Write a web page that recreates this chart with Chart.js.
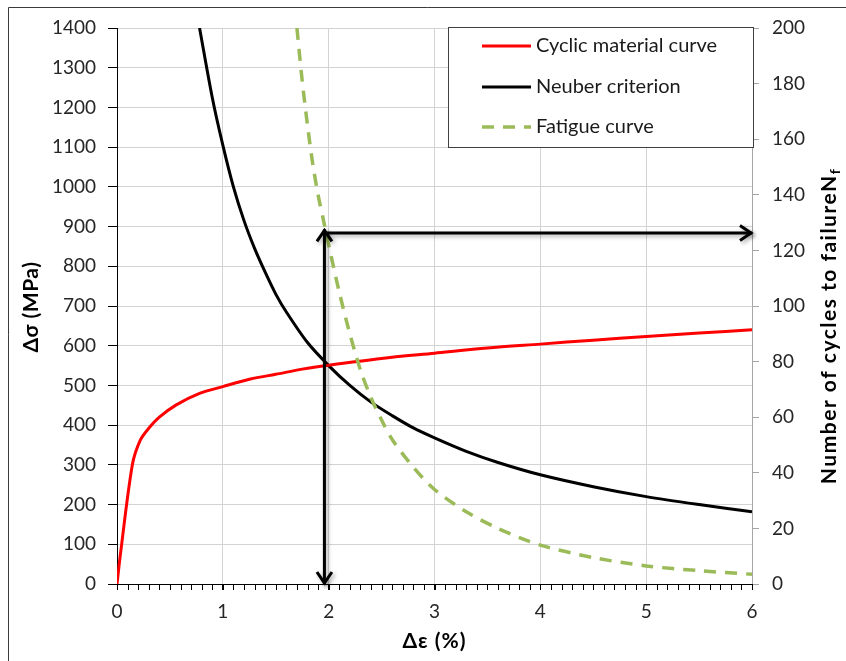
<!DOCTYPE html>
<html><head><meta charset="utf-8">
<script src="https://cdn.jsdelivr.net/npm/chart.js@4/dist/chart.umd.min.js"></script>
<style>html,body{margin:0;padding:0;background:#fff}#wrap{width:846px;height:661px;position:relative}</style>
</head><body><div id="wrap"><canvas id="c" width="846" height="661"></canvas></div>
<script>
// ---- data ----
const seriesNames = ['Cyclic material curve', 'Neuber criterion', 'Fatigue curve'];
const strainCyclic = [0, 0.03, 0.145, 0.22, 0.3, 0.4, 0.56, 0.78, 1.0, 1.26, 1.5, 1.75, 2.0, 2.5, 3.0, 3.5, 4.0, 4.5, 5.0, 5.5, 6.0];
const stressCyclic = [0, 70, 300, 362, 392, 420, 451, 480, 497, 516, 528, 541, 551, 568, 581, 594, 604, 614, 623, 632, 640];
const strainNeuber = [0.78, 0.9, 1.0, 1.1, 1.2, 1.3, 1.4, 1.5, 1.6, 1.8, 2.0, 2.2, 2.4, 2.6, 2.8, 3.0, 3.3, 3.6, 4.0, 4.5, 5.0, 5.5, 6.0];
const stressNeuber = [1400, 1225, 1105, 1000, 915, 845, 785, 730, 685, 608, 550, 500, 458, 424, 393, 368, 334, 306, 275, 245, 220, 200, 182];
const strainFatigue = [1.7, 1.75, 1.8, 1.85, 1.9, 1.95, 2.0, 2.1, 2.2, 2.3, 2.4, 2.5, 2.6, 2.8, 3.0, 3.3, 3.6, 4.0, 4.5, 5.0, 5.5, 6.0];
const cyclesFatigue = [200, 181, 165, 151, 140, 131, 122, 105, 90, 77, 67, 59, 52, 42, 34, 26, 20, 14, 9.5, 6.5, 4.8, 3.5];
const arrowUpX = [1.96, 1.96];
const arrowUpY = [0, 893];
const arrowRightX = [1.96, 6.0];
const arrowRightY = [884, 884];
const xTicks = [0, 1, 2, 3, 4, 5, 6];
const yTicks = [0, 100, 200, 300, 400, 500, 600, 700, 800, 900, 1000, 1100, 1200, 1300, 1400];
const y2Ticks = [0, 20, 40, 60, 80, 100, 120, 140, 160, 180, 200];
const xTitle = 'Δε (%)';
const yTitle = 'Δσ (MPa)';
const y2Title = 'Number of cycles to failureN';
const y2TitleSub = 'f';

const pts = (xs, ys) => xs.map((x, i) => ({x, y: ys[i]}));
const FONT = 'Lato, "Open Sans", sans-serif';
const plain = v => String(v);

const setTicks = arr => (scale) => { scale.ticks = arr.map(v => ({value: v})); };

const decor = {
  id: 'decor',
  afterDraw(chart) {
    const ctx = chart.ctx, xs = chart.scales.x, ys = chart.scales.y, ca = chart.chartArea;
    ctx.save();
    // outer frame (left and top visible)
    ctx.strokeStyle = '#3a3a3a'; ctx.lineWidth = 1;
    ctx.beginPath(); ctx.moveTo(8.5, 700); ctx.lineTo(8.5, 7.5); ctx.lineTo(900, 7.5); ctx.stroke();
    // minor ticks on x axis
    ctx.strokeStyle = '#000'; ctx.lineWidth = 1;
    ctx.beginPath();
    for (let i = 0; i <= 60; i++) {
      const px = Math.round(xs.getPixelForValue(i / 10)) + 0.5;
      ctx.moveTo(px, ca.bottom); ctx.lineTo(px, ca.bottom + 6);
    }
    ctx.stroke();
    // arrows
    ctx.shadowColor = 'rgba(0,0,0,0.35)'; ctx.shadowBlur = 4; ctx.shadowOffsetX = 2; ctx.shadowOffsetY = 2;
    ctx.strokeStyle = '#000'; ctx.lineWidth = 3; ctx.lineCap = 'butt'; ctx.lineJoin = 'miter';
    const ax = xs.getPixelForValue(arrowUpX[0]);
    const ay0 = ys.getPixelForValue(arrowUpY[0]);
    const ay1 = ys.getPixelForValue(arrowUpY[1]);
    const hy = ys.getPixelForValue(arrowRightY[0]);
    const hx0 = xs.getPixelForValue(arrowRightX[0]);
    const hx1 = xs.getPixelForValue(arrowRightX[1]);
    ctx.beginPath(); ctx.moveTo(ax, ay0); ctx.lineTo(ax, ay1); ctx.stroke();
    ctx.beginPath(); ctx.moveTo(hx0 - 1.5, hy); ctx.lineTo(hx1, hy); ctx.stroke();
    const h = 10, w = 7.5;
    ctx.beginPath(); ctx.moveTo(ax - w, ay0 - h - 2); ctx.lineTo(ax, ay0 - 1); ctx.lineTo(ax + w, ay0 - h - 2); ctx.stroke();
    ctx.beginPath(); ctx.moveTo(ax - w, ay1 + h + 2); ctx.lineTo(ax, ay1 + 1); ctx.lineTo(ax + w, ay1 + h + 2); ctx.stroke();
    ctx.beginPath(); ctx.moveTo(hx1 - h - 2, hy - w); ctx.lineTo(hx1 - 1, hy); ctx.lineTo(hx1 - h - 2, hy + w); ctx.stroke();
    ctx.shadowColor = 'transparent'; ctx.shadowBlur = 0; ctx.shadowOffsetX = 0; ctx.shadowOffsetY = 0;
    // legend
    const lx = 448.5, ly = 27.5, lw = 305, lh = 120;
    ctx.fillStyle = '#fff'; ctx.fillRect(lx, ly, lw, lh);
    ctx.strokeStyle = '#404040'; ctx.lineWidth = 1; ctx.strokeRect(lx, ly, lw, lh);
    const rows = [46, 87, 127];
    chart.data.datasets.forEach((ds, i) => {
      const ry = rows[i];
      ctx.strokeStyle = ds.borderColor; ctx.lineWidth = ds.borderWidth;
      ctx.setLineDash(ds.borderDash || []);
      ctx.beginPath(); ctx.moveTo(482, ry); ctx.lineTo(531, ry); ctx.stroke();
      ctx.setLineDash([]);
      ctx.fillStyle = '#1a1a1a'; ctx.font = '20px ' + FONT; ctx.textBaseline = 'middle'; ctx.textAlign = 'left';
      ctx.fillText(ds.label, 536, ry);
    });
    // axis titles
    ctx.fillStyle = '#000';
    ctx.font = 'bold 21px ' + FONT;
    ctx.letterSpacing = '1px';
    ctx.textAlign = 'center'; ctx.textBaseline = 'middle';
    ctx.fillText(xTitle, (ca.left + ca.right) / 2, 641);
    ctx.letterSpacing = '0.5px';
    ctx.save(); ctx.translate(31, 307); ctx.rotate(-Math.PI / 2);
    ctx.fillText(yTitle, 0, 0); ctx.restore();
    ctx.save(); ctx.translate(836, 326); ctx.rotate(-Math.PI / 2);
    ctx.letterSpacing = '1.5px';
    ctx.textAlign = 'left'; ctx.textBaseline = 'alphabetic';
    ctx.font = 'bold 21px ' + FONT;
    const w1 = ctx.measureText(y2Title).width;
    ctx.font = 'bold 14px ' + FONT;
    const w2 = ctx.measureText(y2TitleSub).width;
    const start = -(w1 + w2) / 2;
    ctx.font = 'bold 21px ' + FONT;
    ctx.fillText(y2Title, start, 0);
    ctx.font = 'bold 14px ' + FONT;
    ctx.fillText(y2TitleSub, start + w1, 4);
    ctx.restore();
    ctx.letterSpacing = '0px';
    ctx.restore();
  }
};

new Chart(document.getElementById('c'), {
  type: 'scatter',
  data: {
    datasets: [
      {label: seriesNames[0], data: pts(strainCyclic, stressCyclic), showLine: true, borderColor: '#ff0000', borderWidth: 3, pointRadius: 0, yAxisID: 'y', tension: 0.3, order: 1},
      {label: seriesNames[1], data: pts(strainNeuber, stressNeuber), showLine: true, borderColor: '#000000', borderWidth: 3, pointRadius: 0, yAxisID: 'y', tension: 0.3, order: 2},
      {label: seriesNames[2], data: pts(strainFatigue, cyclesFatigue), showLine: true, borderColor: '#9bbb59', borderWidth: 3.5, borderDash: [12, 9], pointRadius: 0, yAxisID: 'y2', tension: 0.3, order: 0}
    ]
  },
  options: {
    responsive: false, animation: false, devicePixelRatio: 1,
    layout: {padding: {top: 28, left: 0, right: 0, bottom: 0}},
    plugins: {legend: {display: false}, tooltip: {enabled: false}},
    scales: {
      x: {
        type: 'linear', min: 0, max: 6,
        afterBuildTicks: setTicks(xTicks),
        afterFit: s => { s.height = 77; },
        grid: {color: '#d3d3d3', tickLength: 6, tickColor: '#000', lineWidth: 1},
        border: {color: '#000', width: 1},
        ticks: {font: {family: FONT, size: 19}, color: '#262626', padding: 10, callback: plain}
      },
      y: {
        type: 'linear', position: 'left', min: 0, max: 1400,
        afterBuildTicks: setTicks(yTicks),
        afterFit: s => { s.width = 117; },
        grid: {color: '#d3d3d3', tickLength: 9, tickColor: '#000'},
        border: {color: '#000', width: 1},
        ticks: {font: {family: FONT, size: 19}, color: '#262626', padding: 12, callback: plain}
      },
      y2: {
        type: 'linear', position: 'right', min: 0, max: 200,
        afterBuildTicks: setTicks(y2Ticks),
        afterFit: s => { s.width = 94; },
        grid: {drawOnChartArea: false, tickLength: 7, tickColor: '#a6a6a6'},
        border: {color: '#a6a6a6', width: 1},
        ticks: {font: {family: FONT, size: 19}, color: '#262626', padding: 13, callback: plain}
      }
    }
  },
  plugins: [decor]
});
</script></body></html>
